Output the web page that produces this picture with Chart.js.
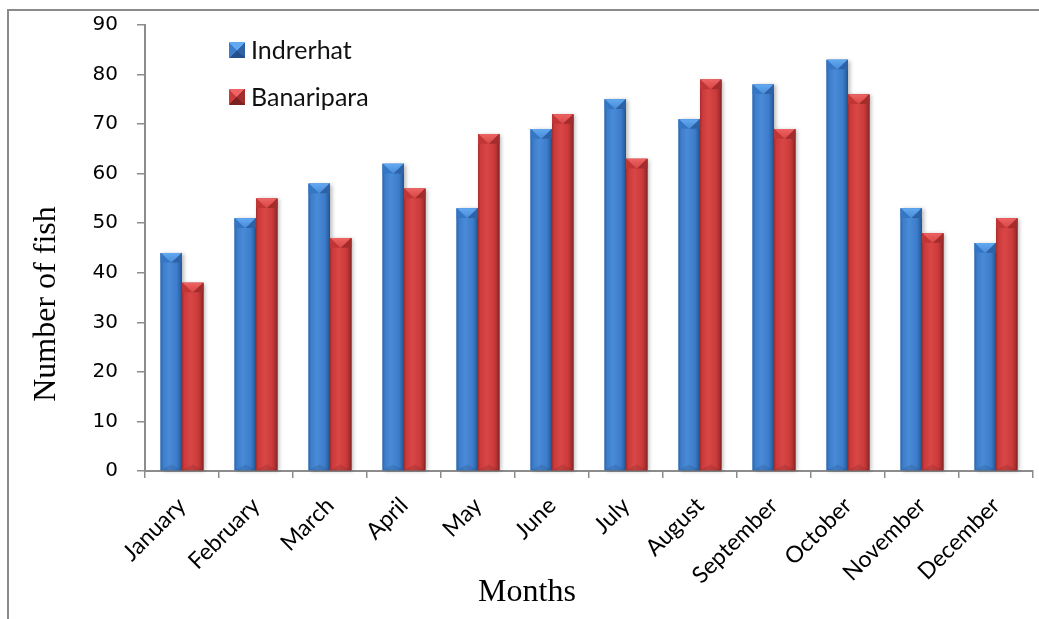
<!DOCTYPE html>
<html>
<head>
<meta charset="utf-8">
<title>Number of fish by month</title>
<script src="https://cdn.jsdelivr.net/npm/chart.js@4"></script>
<style>
  html, body { margin: 0; padding: 0; background: #fff; }
  #wrap { position: relative; width: 1039px; height: 619px; overflow: hidden; }
  #frame { position: absolute; left: 7px; top: 9px; width: 1040px; height: 620px;
           border-left: 2px solid #8a8a8a; border-top: 2px solid #8a8a8a; }
  canvas { position: absolute; left: 0; top: 0; }
  .legend { position: absolute; left: 229px; font-family: Lato, "Open Sans", sans-serif;
            font-size: 25px; color: #111; line-height: 1; }
  .legend .item { position: absolute; left: 0; white-space: nowrap; display: flex; align-items: center; }
  .legend .sw { width: 16px; height: 16px; margin-right: 6px; }
</style>
</head>
<body>
<div id="wrap">
  <div id="frame"></div>
  <canvas id="chart" width="1039" height="619"></canvas>
  <div class="legend" id="legend"></div>
</div>
<script>
// Monthly counts of fish at the two sites
const months = ['January', 'February', 'March', 'April', 'May', 'June',
                'July', 'August', 'September', 'October', 'November', 'December'];
const indrerhat  = [44, 51, 58, 62, 53, 69, 75, 71, 78, 83, 53, 46];
const banaripara = [38, 55, 47, 57, 68, 72, 63, 79, 69, 76, 48, 51];
const seriesNames = ['Indrerhat', 'Banaripara'];
const yMin = 0, yMax = 90, yStep = 10;
const xTitle = 'Months';
const yTitle = 'Number of fish';

// Bevel shades for each series: edge, body, light face, top face
const shades = [
  { edge: '#23508a', dark: '#2d63a6', body: '#3c7dcc', light: '#4a8ad6', cap: '#62a9f2', capSide: '#3576c4' },
  { edge: '#7d2020', dark: '#a32d2d', body: '#cc3b3b', light: '#d84646', cap: '#ee6363', capSide: '#c03636' }
];

// Paints the glassy bevelled look over each bar the library has laid out
const bevelBars = {
  id: 'bevelBars',
  afterDatasetsDraw(chart) {
    const ctx = chart.ctx;
    chart.data.datasets.forEach((ds, i) => {
      const meta = chart.getDatasetMeta(i);
      const s = shades[i];
      meta.data.forEach(bar => {
        const p = bar.getProps(['x', 'y', 'base', 'width'], true);
        const l = p.x - p.width / 2, r = p.x + p.width / 2, w = p.width;
        const top = p.y, bot = p.base;
        ctx.save();
        ctx.shadowColor = 'rgba(0,0,0,0.28)';
        ctx.shadowBlur = 4;
        ctx.shadowOffsetX = 2;
        ctx.shadowOffsetY = 1;
        const g = ctx.createLinearGradient(l, 0, r, 0);
        g.addColorStop(0, s.dark);
        g.addColorStop(0.12, s.body);
        g.addColorStop(0.4, s.light);
        g.addColorStop(0.75, s.body);
        g.addColorStop(0.92, s.dark);
        g.addColorStop(1, s.edge);
        ctx.fillStyle = g;
        ctx.fillRect(l, top, w, bot - top);
        ctx.restore();

        // top face: light triangle pointing down between two side facets
        const capH = Math.min(w * 0.45, (bot - top) / 2);
        ctx.save();
        ctx.fillStyle = s.capSide;
        ctx.beginPath();
        ctx.moveTo(l, top); ctx.lineTo(p.x, top + capH); ctx.lineTo(l, top + capH); ctx.closePath();
        ctx.fill();
        ctx.fillStyle = s.dark;
        ctx.beginPath();
        ctx.moveTo(r, top); ctx.lineTo(p.x, top + capH); ctx.lineTo(r, top + capH); ctx.closePath();
        ctx.fill();
        const cg = ctx.createLinearGradient(0, top, 0, top + capH);
        cg.addColorStop(0, s.cap);
        cg.addColorStop(1, s.light);
        ctx.fillStyle = cg;
        ctx.beginPath();
        ctx.moveTo(l + 0.5, top); ctx.lineTo(r - 0.5, top); ctx.lineTo(p.x, top + capH); ctx.closePath();
        ctx.fill();
        // faint bottom facet
        ctx.fillStyle = 'rgba(0,0,0,0.10)';
        ctx.beginPath();
        ctx.moveTo(l, bot); ctx.lineTo(r, bot); ctx.lineTo(p.x, bot - capH * 0.6); ctx.closePath();
        ctx.fill();
        ctx.restore();
      });
    });
  }
};

// Axis titles, placed where the original layout had them
const axisTitles = {
  id: 'axisTitles',
  afterDraw(chart) {
    const ctx = chart.ctx;
    ctx.save();
    ctx.fillStyle = '#000';
    ctx.font = '32px "Liberation Serif", "Times New Roman", serif';
    ctx.textAlign = 'center';
    ctx.textBaseline = 'middle';
    ctx.fillText(xTitle, 527, 593);
    ctx.translate(47, 304);
    ctx.rotate(-Math.PI / 2);
    ctx.fillText(yTitle, 0, 0);
    ctx.restore();
  }
};

const axisGrey = '#8c8c8c';

const chart = new Chart(document.getElementById('chart'), {
  type: 'bar',
  data: {
    labels: months,
    datasets: [
      { label: seriesNames[0], data: indrerhat,  backgroundColor: shades[0].body },
      { label: seriesNames[1], data: banaripara, backgroundColor: shades[1].body }
    ]
  },
  options: {
    responsive: false,
    animation: false,
    devicePixelRatio: 1,
    layout: { padding: { left: 0, right: 6, top: 25, bottom: 0 } },
    datasets: { bar: { categoryPercentage: 0.58, barPercentage: 1.0 } },
    plugins: { legend: { display: false }, tooltip: { enabled: false } },
    scales: {
      x: {
        grid: { drawOnChartArea: false, tickLength: 7, color: axisGrey, lineWidth: 1.5, offset: true },
        border: { color: axisGrey, width: 2 },
        ticks: {
          autoSkip: false, minRotation: 45, maxRotation: 45, padding: 14,
          color: '#000', font: { family: 'Lato', size: 23 }
        },
        afterFit(scale) { scale.height = 619 - 471; }
      },
      y: {
        min: yMin, max: yMax,
        grid: { drawOnChartArea: false, tickLength: 8, color: axisGrey, lineWidth: 1.5 },
        border: { color: axisGrey, width: 2 },
        ticks: {
          stepSize: yStep, padding: 19, color: '#000',
          font: { family: '"DejaVu Sans", Verdana, sans-serif', size: 20 }
        },
        afterFit(scale) {
          scale.width = 145;
          // the label gap would otherwise be reserved above and below the axis too
          scale.paddingTop = 0;
          scale.paddingBottom = 0;
        }
      }
    }
  },
  plugins: [bevelBars, axisTitles]
});

// Legend stacked inside the plot, top-left
(function buildLegend() {
  const box = document.getElementById('legend');
  const faces = shades.map(s =>
    `conic-gradient(from -45deg, ${s.cap} 0deg 90deg, ${s.dark} 90deg 180deg, ${s.edge} 180deg 270deg, ${s.body} 270deg 360deg)`);
  const tops = [37, 84];
  seriesNames.forEach((name, i) => {
    const item = document.createElement('div');
    item.className = 'item';
    item.style.top = tops[i] + 'px';
    const sw = document.createElement('span');
    sw.className = 'sw';
    sw.style.background = faces[i];
    const t = document.createElement('span');
    t.textContent = name;
    item.appendChild(sw);
    item.appendChild(t);
    box.appendChild(item);
  });
})();
</script>
</body>
</html>
